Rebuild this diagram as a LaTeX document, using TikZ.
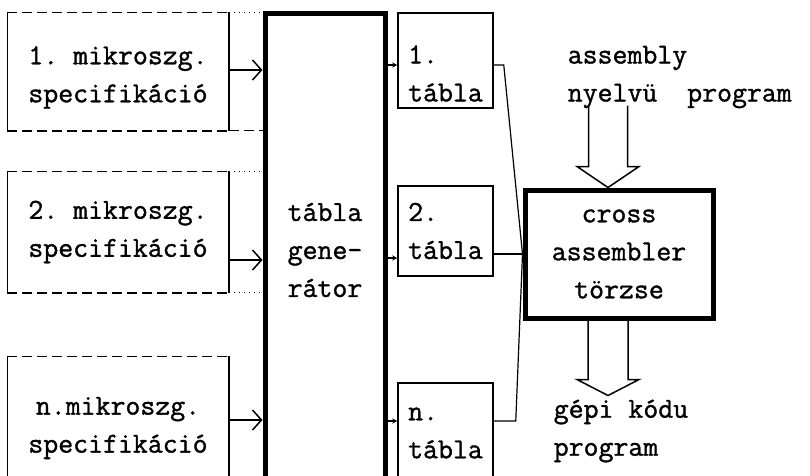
\documentclass[tikz,border=0pt]{standalone}
\usepackage{fontspec}
\setmonofont[FakeBold=1.2]{Latin Modern Mono}
\usetikzlibrary{arrows.meta}

\begin{document}
\begin{tikzpicture}[x=1pt,y=-1pt,line width=1.5pt,
    font=\ttfamily\fontsize{29}{38}\selectfont]
		\tikzstyle{spec}=[minimum width=220pt,inner sep=0pt,align=center]
		\tikzstyle{tabla}=[draw,minimum width=95pt,inner sep=0pt,align=left]
		\tikzstyle{heavy}=[draw,line width=5pt,inner sep=0pt]
		\tikzstyle{dashside}=[dash pattern=on 10pt off 5pt]
		\tikzstyle{annot}=[anchor=west,align=left,inner sep=0pt]

		\clip (0,0) rectangle (810,475);

		% microprogram specifications
		\node[spec,minimum height=117pt](s1) at (118,71.5){\rule{0pt}{30pt}1. mikroszg.\\specifikáció};
		\node[spec,minimum height=120pt](s2) at (118,232){2. mikroszg.\\specifikáció};
		\node[spec,minimum height=142pt](sn) at (118,428){n.mikroszg.\\specifikáció};

		% table generator
		\node[heavy,minimum width=120pt,minimum height=474pt,align=center](gen) at (325,250){tábla\\gene-\\rátor};

		% generated tables
		\node[tabla,minimum height=95pt](t1) at (445.5,60.5){\rule{0pt}{44pt}1.\\tábla};
		\node[tabla,minimum height=90pt](t2) at (445.5,231){2.\\tábla};
		\node[tabla,minimum height=100pt](tn) at (445.5,433){n.\\tábla};

		% cross assembler core
		\node[heavy,minimum width=188pt,minimum height=128pt,align=center](cross) at (619,254){cross\\assembler\\törzse};

		\node[annot](asm) at (567,77){assembly\\nyelvü~~program};
		\node[annot](kod) at (553,431){gépi kódu\\program};

		\foreach \s in {s1,s2,sn}
		{
		  \draw[dashside] (\s.north west) -- (\s.north east);
		  \draw[dashside] (\s.south west) -- (\s.south east);
		  \draw (\s.north west) -- (\s.south west) (\s.north east) -- (\s.south east);
		}
		\draw[dashside,line width=1pt] (s1.south east) -- (s1.south east -| gen.west);
		\draw[loosely dotted,line width=1pt] (s1.north east) -- (s1.north east -| gen.west);
		\draw[loosely dotted,line width=1pt] (s2.north east) -- (s2.north east -| gen.west);
		\draw[loosely dotted,line width=1pt] (s2.south east) -- (s2.south east -| gen.west);

		\foreach \s/\y in {s1/70,s2/260,sn/420}
		{
		  \draw[-{Straight Barb[length=9pt,width=20pt]}] (\s.east |- 0,\y) -- (gen.west |- 0,\y);
		}

		\foreach \t/\y in {t1/65,t2/258,tn/421}
		{
		  \draw[-{Stealth[length=5pt,width=5pt]},line width=1.2pt] (gen.east |- 0,\y) -- (\t.west |- 0,\y);
		}

		\foreach \t/\y/\d in {t1/65/10,t2/254/0,tn/421/22}
		{
		  \draw[line width=1.2pt] (\t.east |- 0,\y) -- ++(\d,0) -- (cross.west);
		}

		% hollow arrows in and out of the assembler
		\coordinate (in) at ([xshift=-11pt]cross.north);
		\coordinate (out) at ([xshift=-11pt,yshift=-75pt]cross.south);
		\draw[line join=miter] (in) ++(-19.5,-82) -- ++(0,61) -- ++(-11.5,0) -- (in)
		  -- ++(31,-21) -- ++(-11.5,0) -- ++(0,-61);
		\draw[line join=miter] (out) ++(-20,-75) -- ++(0,59) -- ++(-11,0) -- (out)
		  -- ++(31,-16) -- ++(-11,0) -- ++(0,-59);

\end{tikzpicture}
\end{document}
